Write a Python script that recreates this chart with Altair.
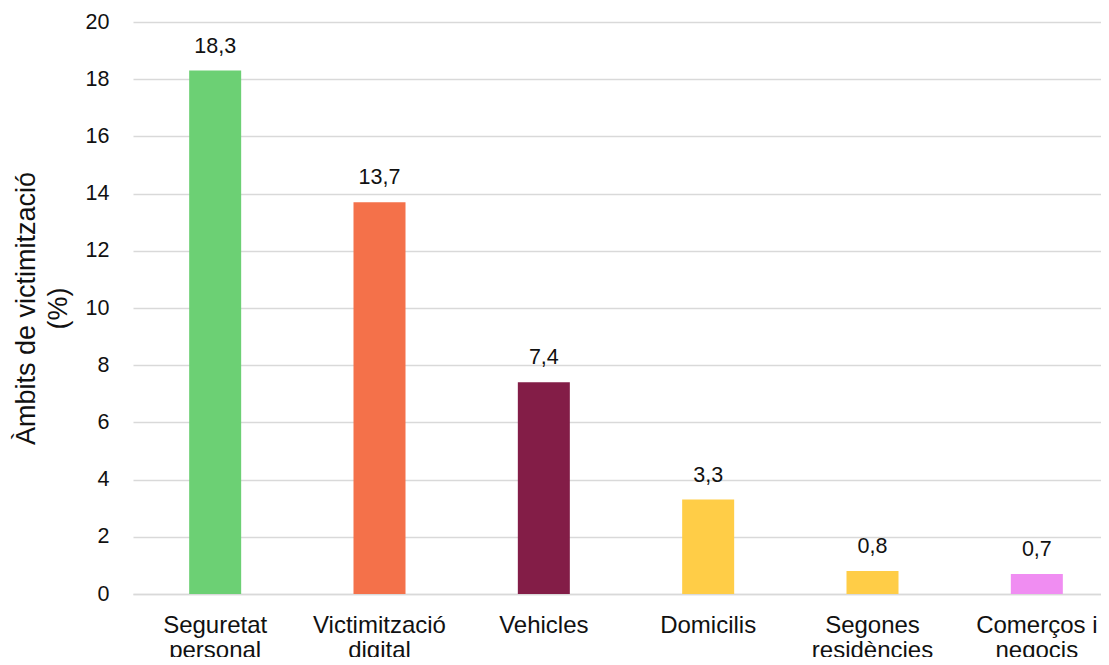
import altair as alt
import pandas as pd

categories = ["Seguretat\npersonal", "Victimització\ndigital", "Vehicles",
              "Domicilis", "Segones\nresidències", "Comerços i\nnegocis"]
values = [18.3, 13.7, 7.4, 3.3, 0.8, 0.7]
colors = ["#6CD074", "#F4714A", "#831D47", "#FFCD47", "#FFCD47", "#F08DF2"]

df = pd.DataFrame({"cat": categories, "v": values, "c": colors})

FONT = "Liberation Sans"

base = alt.Chart(df).encode(
    x=alt.X("cat:N", sort=categories, title=None,
            axis=alt.Axis(labelAngle=0, labelFontSize=24, labelColor="#111111",
                          labelFont=FONT, labelPadding=19, labelLineHeight=25,
                          labelBaseline="top",
                          ticks=False, domainColor="#d9d9d9", domainWidth=1.5,
                          labelExpr="split(datum.label, '\\n')"),
            scale=alt.Scale(paddingInner=0, paddingOuter=0, range=[0, 986])),
)

bars = base.mark_bar(size=52).encode(
    y=alt.Y("v:Q", scale=alt.Scale(domain=[0, 20]),
            title=["Àmbits de victimització", "(%)"],
            axis=alt.Axis(values=list(range(0, 21, 2)), labelFontSize=21.5,
                          labelColor="#111111", labelFont=FONT, labelPadding=24,
                          ticks=False, domain=False, gridColor="#d9d9d9",
                          gridWidth=1.5, titleFont=FONT, titleFontSize=27,
                          titleFontWeight="normal", titleColor="#111111",
                          titlePadding=13, titleLineHeight=32)),
    color=alt.Color("c:N", scale=None),
)

text = base.transform_calculate(
    lab="replace(format(datum.v, '.1f'), '.', ',')"
).mark_text(fontSize=21.5, font=FONT, color="#111111", baseline="alphabetic", dy=-18).encode(
    y="v:Q", text="lab:N"
)

chart = (bars + text).properties(
    width=968, height=572,
    autosize=alt.AutoSizeParams(type="none"),
    padding={"left": 125, "top": 14, "right": 0, "bottom": 63},
).configure_view(stroke=None)

chart.save("out.html", embed_options={"renderer": "svg", "actions": False})
